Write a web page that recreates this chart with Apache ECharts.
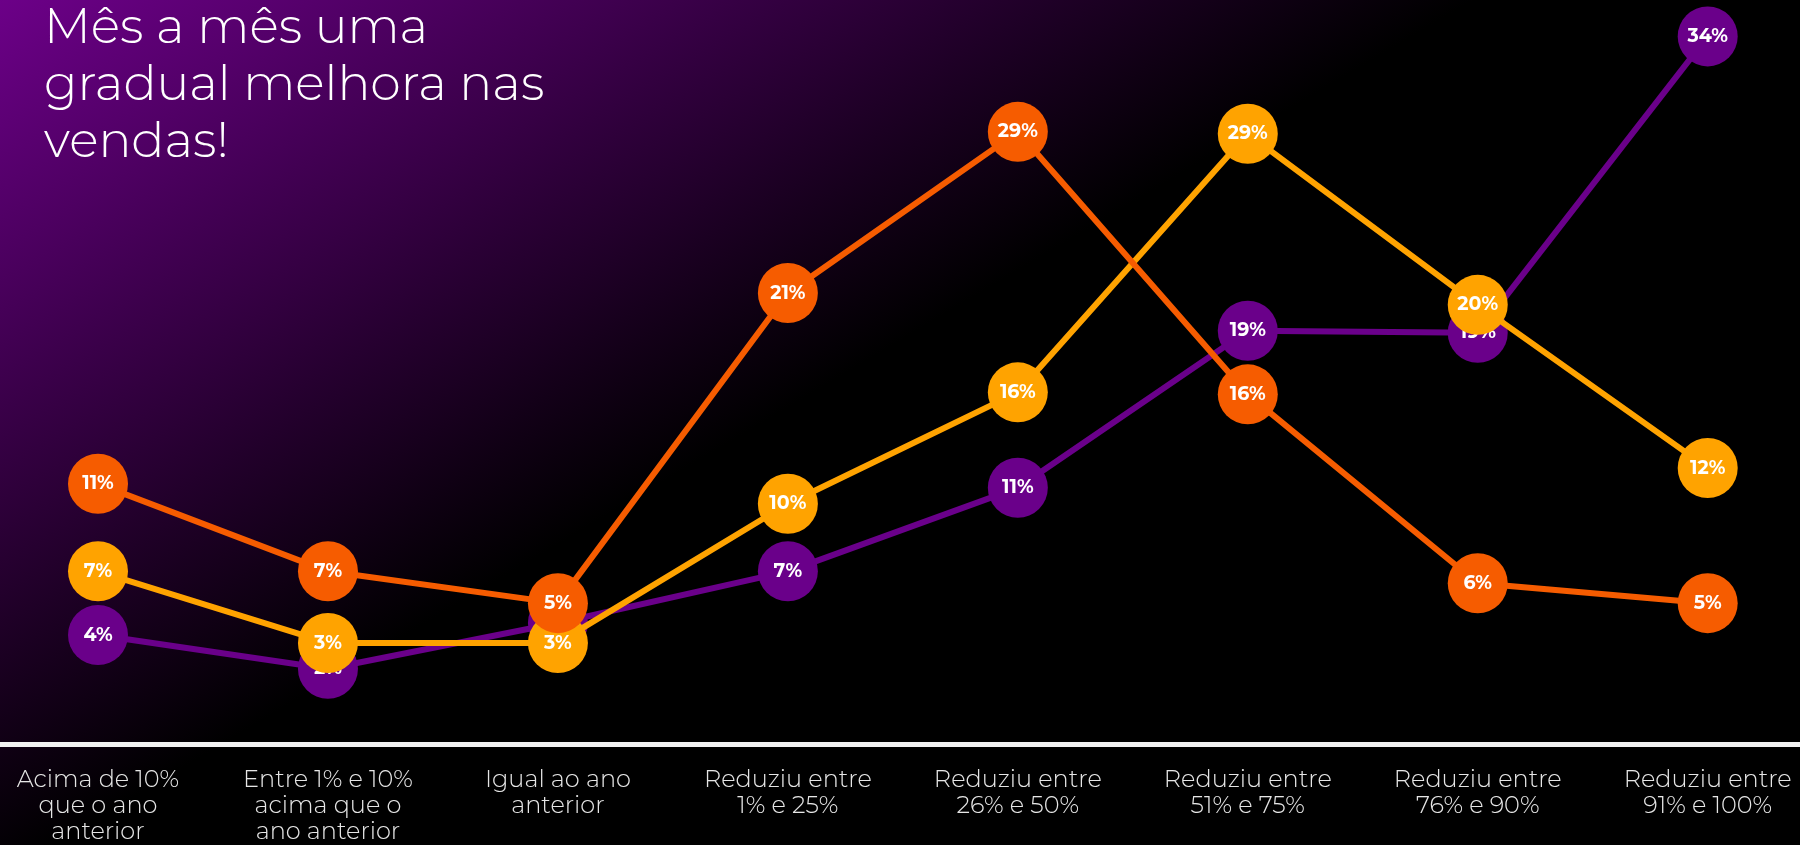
<!DOCTYPE html>
<html>
<head>
<meta charset="utf-8">
<script src="https://cdn.jsdelivr.net/npm/echarts@6/dist/echarts.min.js"></script>
<style>
  html, body { margin: 0; padding: 0; background: #000; }
  #chart { width: 1800px; height: 845px; }
</style>
</head>
<body>
<div id="chart"></div>
<script>
// ---- data ----
const categories = [
  'Acima de 10%\nque o ano\nanterior',
  'Entre 1% e 10%\nacima que o\nano anterior',
  'Igual ao ano\nanterior',
  'Reduziu entre\n1% e 25%',
  'Reduziu entre\n26% e 50%',
  'Reduziu entre\n51% e 75%',
  'Reduziu entre\n76% e 90%',
  'Reduziu entre\n91% e 100%'
];
const titleText = 'Mês a mês uma\ngradual melhora nas\nvendas!';
const seriesNames = ['Série 1', 'Série 2', 'Série 3'];
const purpleValues = [3.8, 2.1, 4.4, 7.0, 11.2, 19.1, 19.0, 33.9];
const yellowValues = [7.0, 3.4, 3.4, 10.4, 16.0, 29.0, 20.4, 12.2];
const orangeValues = [11.4, 7.0, 5.4, 21.0, 29.1, 15.9, 6.4, 5.4];

const colors = ['#6a008a', '#ffa300', '#f65c00'];
const valueSets = [purpleValues, yellowValues, orangeValues];

const chart = echarts.init(document.getElementById('chart'), null, { renderer: 'canvas' });

const series = valueSets.map((vals, i) => ({
  name: seriesNames[i],
  type: 'line',
  xAxisIndex: 0,
  yAxisIndex: 0,
  data: vals,
  z: 2 + i,
  symbol: 'circle',
  symbolSize: 60,
  showAllSymbol: true,
  lineStyle: { color: colors[i], width: 6 },
  itemStyle: { color: colors[i] },
  label: {
    show: true,
    position: 'inside',
    color: '#ffffff',
    fontSize: 19,
    fontWeight: 'bold',
    fontFamily: 'Montserrat, "Noto Sans", sans-serif',
    formatter: p => Math.round(p.value) + '%'
  },
  emphasis: { disabled: true },
  animation: false
}));

chart.setOption({
  animation: false,
  backgroundColor: {
    type: 'linear', x: 0, y: 0, x2: 0.214, y2: 0.766,
    colorStops: [
      { offset: 0, color: '#6c0088' },
      { offset: 1, color: '#000000' }
    ]
  },
  title: {
    text: titleText,
    left: 44,
    top: 0,
    padding: 0,
    textStyle: {
      color: '#ffffff',
      fontSize: 49,
      fontWeight: 300,
      lineHeight: 57,
      fontFamily: 'Montserrat, "Open Sans", sans-serif'
    }
  },
  grid: [
    { left: 98, right: 92.3, top: 0, bottom: 100.5, containLabel: false },
    { left: 0, right: 0, top: 0, bottom: 100.5, containLabel: false }
  ],
  xAxis: [
    {
      type: 'category',
      gridIndex: 0,
      data: categories,
      boundaryGap: false,
      axisLine: { show: false },
      axisTick: { show: false },
      splitLine: { show: false },
      axisLabel: {
        interval: 0,
        margin: 23,
        color: '#e6e6e6',
        fontSize: 24,
        fontWeight: 300,
        lineHeight: 26,
        align: 'center',
        fontFamily: 'Montserrat, "Open Sans", sans-serif'
      }
    },
    {
      type: 'value',
      gridIndex: 1,
      min: 0,
      max: 1,
      axisLine: { show: true, onZero: false, lineStyle: { color: '#f2f2f2', width: 5 } },
      axisTick: { show: false },
      axisLabel: { show: false },
      splitLine: { show: false }
    }
  ],
  yAxis: [
    { type: 'value', gridIndex: 0, min: -1.683, max: 35.73, show: false, splitLine: { show: false } },
    { type: 'value', gridIndex: 1, min: 0, max: 1, show: false, splitLine: { show: false } }
  ],
  series: series
});
</script>
</body>
</html>
